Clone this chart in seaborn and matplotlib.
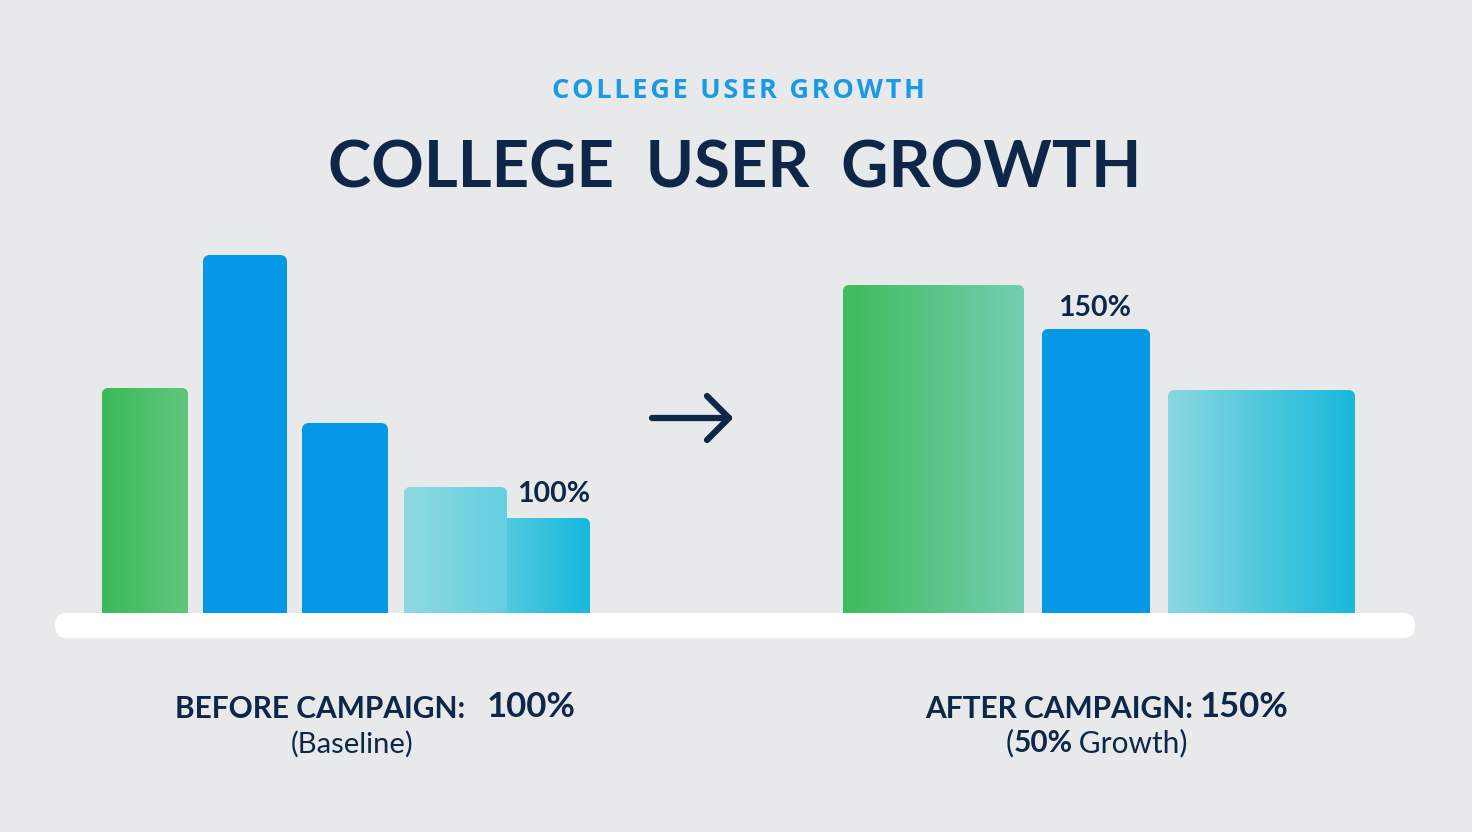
import numpy as np
import pandas as pd
import matplotlib
matplotlib.use("Agg")
import matplotlib.pyplot as plt
from matplotlib.patches import FancyBboxPatch
from matplotlib.colors import LinearSegmentedColormap
import seaborn as sns

# Chart data (bar heights in relative units)
before_labels = ["Before 1", "Before 2", "Before 3", "Before 4a", "Before 4b"]
before_values = [225, 358, 190, 126, 95]
after_labels = ["After 1", "After 2", "After 3"]
after_values = [328, 284, 223]

title = "COLLEGE  USER  GROWTH"
subtitle = "COLLEGE USER GROWTH"
before_pct = "100%"
after_pct = "150%"

# Layout (pixel positions / widths of each bar)
bar_left = [102, 203, 302, 404, 500, 843, 1042, 1168]
bar_width = [86, 84, 86, 103, 90, 181, 108, 187]
bar_colors = [
    ("#3aba58", "#62c67d"),
    ("#0598e6", "#0598e6"),
    ("#0598e6", "#0598e6"),
    ("#8ed9e1", "#63cfe0"),
    ("#56cbe0", "#16b8dd"),
    ("#3fbb5b", "#73cfb2"),
    ("#0598e6", "#0599e7"),
    ("#8ad8e1", "#17b9dc"),
]
draw_order = [0, 1, 2, 4, 3, 5, 6, 7]  # lower step drawn under upper step

W, H = 1472, 832
BASE = 613  # baseline pixel row
BG = "#e7e9eb"
NAVY = "#0e2748"

sns.set_theme(style="white")
plt.rcParams["font.family"] = ["Lato", "DejaVu Sans"]

df = pd.DataFrame({
    "segment": before_labels + after_labels,
    "value": before_values + after_values,
})

fig = plt.figure(figsize=(W / 100, H / 100), dpi=100, facecolor=BG)
ax = fig.add_axes([0, 0, 1, 1])
ax.set_facecolor(BG)

palette = {s: c[0] for s, c in zip(df["segment"], bar_colors)}
sns.barplot(data=df, x="segment", y="value", hue="segment", palette=palette,
            order=list(df["segment"]), legend=False, ax=ax, saturation=1)

patches = sorted(ax.patches, key=lambda p: p.get_x())
for rank, i in enumerate(draw_order):
    p = patches[i]
    x0, w, h = bar_left[i], bar_width[i], p.get_height()
    p.set_x(x0)
    p.set_width(w)
    p.set_y(-20)
    p.set_height(h + 20)
    p.set_edgecolor("none")
    p.set_zorder(2 + rank * 0.1)
    clip = FancyBboxPatch((x0, -20), w, h + 20,
                          boxstyle="round,pad=0,rounding_size=7",
                          transform=ax.transData)
    p.set_clip_path(clip)
    c0, c1 = bar_colors[i]
    if c0 != c1:
        cmap = LinearSegmentedColormap.from_list("g%d" % i, [c0, c1])
        grad = np.linspace(0, 1, 256).reshape(1, -1)
        im = ax.imshow(grad, extent=[x0, x0 + w, -20, h], aspect="auto",
                       cmap=cmap, zorder=2 + rank * 0.1 + 0.05,
                       interpolation="bicubic")
        im.set_clip_path(clip)

# white baseline strip
ax.add_patch(FancyBboxPatch((55, BASE - 638), 1360, 25,
                            boxstyle="round,pad=0,rounding_size=12",
                            facecolor="white", edgecolor="none", zorder=5))

ax.set_xlim(0, W)
ax.set_ylim(BASE - H, BASE)
ax.set_axis_off()


def ty(py):
    return BASE - py


# arrow
ax.plot([652, 729], [ty(418), ty(418)], color=NAVY, lw=4.5,
        solid_capstyle="round", zorder=6)
ax.plot([707, 729, 707], [ty(396), ty(418), ty(440)], color=NAVY, lw=4.5,
        solid_capstyle="round", solid_joinstyle="round", zorder=6)

# titles (subtitle letter-spaced with hair spaces)
spaced = "\u200a".join(subtitle)
ax.text(738, ty(98), spaced, ha="center", va="baseline", fontsize=19.5,
        fontweight="bold", color="#1b9ae4", family=["Open Sans", "DejaVu Sans"])
ax.text(735, ty(188), title, ha="center", va="baseline", fontsize=47,
        fontweight="bold", color=NAVY)

# value labels above bars
ax.text(517, ty(502), before_pct, ha="left", va="baseline", fontsize=20.5,
        fontweight="bold", color=NAVY, zorder=6)
ax.text(1058, ty(316), after_pct, ha="left", va="baseline", fontsize=20.5,
        fontweight="bold", color=NAVY, zorder=6)

# bottom captions
ax.text(175, ty(718), "BEFORE CAMPAIGN:", ha="left", va="baseline",
        fontsize=21.5, fontweight="bold", color=NAVY)
ax.text(576, ty(717), before_pct, ha="right", va="baseline", fontsize=25,
        fontweight="bold", color=NAVY)
ax.text(352, ty(753), "(Baseline)", ha="center", va="baseline", fontsize=21,
        color=NAVY)

ax.text(925, ty(718), "AFTER CAMPAIGN:", ha="left", va="baseline",
        fontsize=21.5, fontweight="bold", color=NAVY)
ax.text(1289, ty(717), after_pct, ha="right", va="baseline", fontsize=25,
        fontweight="bold", color=NAVY)

# "(50% Growth)" with a bold number, pieces chained left to right
renderer = fig.canvas.get_renderer()
x_px = 1006
for piece, weight in [("(", "normal"), ("50%", "bold"), ("\u2009Growth)", "normal")]:
    t = ax.text(x_px, ty(752), piece, ha="left", va="baseline", fontsize=21.5,
                fontweight=weight, color=NAVY)
    bb = t.get_window_extent(renderer=renderer)
    x_px += bb.width + (2 if piece == "50%" else 0)

fig.savefig("out.png", dpi=100, facecolor=BG)
